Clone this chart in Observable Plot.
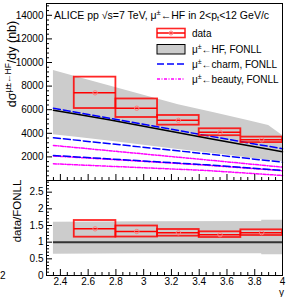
<!DOCTYPE html>
<html><head><meta charset="utf-8">
<script src="https://cdn.jsdelivr.net/npm/d3@7"></script>
<script src="https://cdn.jsdelivr.net/npm/@observablehq/plot@0.6"></script>
<style>
body{margin:0;background:#fff;}
#wrap{position:relative;width:289px;height:297px;overflow:hidden;font-family:"Liberation Sans",Arial,sans-serif;}
#wrap svg{position:absolute;left:0;}
</style></head>
<body><div id="wrap"></div>
<script>
// ---- data ----
const binLo = [2.5, 2.8, 3.1, 3.4, 3.7];
const binHi = [2.8, 3.1, 3.4, 3.7, 4.0];
const binCenter = [2.65, 2.95, 3.25, 3.55, 3.85];
const dataVal = [7430, 6125, 5100, 4090, 3445];
const dataSyst = [1330, 785, 410, 293, 233];
const ratioVal = [1.40, 1.32, 1.28, 1.225, 1.285];
const ratioSyst = [0.25, 0.165, 0.10, 0.085, 0.085];

const fonllX = [2.35, 2.5, 2.75, 3.0, 3.25, 3.5, 3.75, 3.9, 4.0];
const fonllCentral = [5950, 5660, 5140, 4600, 4050, 3500, 2960, 2640, 2430];
const fonllUpper = [9320, 8830, 8030, 7220, 6420, 5760, 5090, 4660, 3810];
const fonllLower = [3870, 3680, 3340, 2990, 2630, 2280, 1920, 1720, 1580];

const compX = [2.35, 3.45, 4.0];
const charmUpper = [6130, 3810, 2690];
const charmCentral = [3620, 2260, 1550];
const charmLower = [2120, 1330, 850];
const beautyUpper = [2970, 1750, 1130];
const beautyCentral = [2080, 1300, 830];
const beautyLower = [1415, 850, 425];

const ratioBandX = [2.35, 3.0, 3.85, 3.851, 4.0];
const ratioBandUpper = [1.60, 1.61, 1.62, 1.66, 1.66];
const ratioBandLower = [0.64, 0.65, 0.65, 0.62, 0.62];

const xMajor = [2.4, 2.6, 2.8, 3.0, 3.2, 3.4, 3.6, 3.8, 4.0];
const xLabels = ["2.4", "2.6", "2.8", "3", "3.2", "3.4", "3.6", "3.8", "4"];
const yTopMajor = [2000, 4000, 6000, 8000, 10000, 12000, 14000];
const yBotMajor = [0, 0.5, 1, 1.5, 2, 2.5];
const yBotLabels = ["0", "0.5", "1", "1.5", "2", "2.5"];

// ---- derived tables ----
const boxes = binLo.map((lo, i) => ({lo, hi: binHi[i], c: binCenter[i], v: dataVal[i], s: dataSyst[i], r: ratioVal[i], rs: ratioSyst[i]}));
const band = fonllX.map((x, i) => ({x, c: fonllCentral[i], hi: fonllUpper[i], lo: fonllLower[i]}));
const comp = compX.map((x, i) => ({x, cu: charmUpper[i], cc: charmCentral[i], cl: charmLower[i], bu: beautyUpper[i], bc: beautyCentral[i], bl: beautyLower[i]}));
const rband = ratioBandX.map((x, i) => ({x, hi: ratioBandUpper[i], lo: ratioBandLower[i]}));
const xMinor = d3.range(2.3, 4.0001, 0.05).map(v => +v.toFixed(2)).filter(v => !xMajor.some(m => Math.abs(m - v) < 1e-6));
const yTopMinor = d3.range(400, 15000, 400).filter(v => v % 2000 !== 0);
const yBotMinor = d3.range(0.1, 2.85, 0.1).map(v => +v.toFixed(1)).filter(v => Math.abs(v * 2 - Math.round(v * 2)) > 1e-6);

const RED = "#ff0000", BLUE = "#0000ff", MAG = "#ff00ff";
const pStyle = {fontFamily: "'Liberation Sans', Arial, sans-serif", fontSize: "10px", background: "transparent", overflow: "visible", color: "black"};
const blueDash = "7,3", magDash = "3,1.5,1,1.5";

const topPlot = Plot.plot({
  width: 289, height: 181, marginTop: 3, marginBottom: 1, marginLeft: 46, marginRight: 7,
  x: {domain: [2.3, 4.0]}, y: {domain: [0, 15000]}, style: pStyle,
  marks: [
    Plot.areaY(band, {x: "x", y1: "lo", y2: "hi", fill: "#cccccc"}),
    Plot.line(comp, {x: "x", y: "bl", stroke: MAG, strokeWidth: 1.5, strokeDasharray: magDash}),
    Plot.line(comp, {x: "x", y: "bc", stroke: MAG, strokeWidth: 1.5, strokeDasharray: magDash}),
    Plot.line(comp, {x: "x", y: "bu", stroke: MAG, strokeWidth: 1.5, strokeDasharray: magDash}),
    Plot.line(comp, {x: "x", y: "cl", stroke: BLUE, strokeWidth: 1.5, strokeDasharray: blueDash}),
    Plot.line(comp, {x: "x", y: "cc", stroke: BLUE, strokeWidth: 1.5, strokeDasharray: blueDash}),
    Plot.line(band, {x: "x", y: "c", stroke: "black", strokeWidth: 1.5}),
    Plot.line(comp, {x: "x", y: "cu", stroke: BLUE, strokeWidth: 1.5, strokeDasharray: blueDash}),
    Plot.rect(boxes, {x1: "lo", x2: "hi", y1: d => d.v - d.s, y2: d => d.v + d.s, fill: "none", stroke: RED, strokeWidth: 1.8, strokeOpacity: 0.85}),
    Plot.ruleY(boxes, {x1: "lo", x2: "hi", y: "v", stroke: RED, strokeWidth: 1.5}),
    Plot.dot(boxes, {x: "c", y: "v", r: 2.2, stroke: "#ff8080", fill: "none", strokeWidth: 1}),
    Plot.frame({stroke: "black", strokeWidth: 1}),
    Plot.axisY({ticks: yTopMajor, tickSize: 6, dx: 6, tickPadding: 3, tickFormat: d => String(d), label: null, fontSize: 10}),
    Plot.axisY({ticks: yTopMinor, tickSize: 3, dx: 3, tickFormat: () => "", label: null}),
    Plot.axisX({ticks: xMajor, tickSize: 6, dy: -6, tickFormat: () => "", label: null}),
    Plot.axisX({ticks: xMinor, tickSize: 3, dy: -3, tickFormat: () => "", label: null})
  ]
});
topPlot.style.top = "0px";

const botPlot = Plot.plot({
  width: 289, height: 118, marginTop: 1, marginBottom: 22, marginLeft: 46, marginRight: 7,
  x: {domain: [2.3, 4.0]}, y: {domain: [0, 2.85]}, style: pStyle,
  marks: [
    Plot.areaY(rband, {x: "x", y1: "lo", y2: "hi", fill: "#cccccc"}),
    Plot.ruleY([1], {x1: 2.35, x2: 4.0, stroke: "#333333", strokeWidth: 2}),
    Plot.rect(boxes, {x1: "lo", x2: "hi", y1: d => d.r - d.rs, y2: d => d.r + d.rs, fill: "none", stroke: RED, strokeWidth: 1.8, strokeOpacity: 0.85}),
    Plot.ruleY(boxes, {x1: "lo", x2: "hi", y: "r", stroke: RED, strokeWidth: 1.5}),
    Plot.dot(boxes, {x: "c", y: "r", r: 2.2, stroke: "#ff8080", fill: "none", strokeWidth: 1}),
    Plot.frame({stroke: "black", strokeWidth: 1}),
    Plot.axisY({ticks: yBotMajor, tickSize: 6, dx: 6, tickPadding: 3, tickFormat: d => yBotLabels[yBotMajor.indexOf(d)], label: null, fontSize: 10}),
    Plot.axisY({ticks: yBotMinor, tickSize: 3, dx: 3, tickFormat: () => "", label: null}),
    Plot.axisX({ticks: xMajor, tickSize: 6, dy: -6, tickPadding: 2, tickFormat: d => xLabels[xMajor.indexOf(d)], label: null, fontSize: 10}),
    Plot.axisX({ticks: xMinor, tickSize: 3, dy: -3, tickFormat: () => "", label: null})
  ]
});
botPlot.style.top = "179px";

const wrap = document.getElementById("wrap");
wrap.appendChild(topPlot);
wrap.appendChild(botPlot);

// ---- overlay: titles and legend ----
const ov = d3.select(wrap).append("svg").attr("width", 289).attr("height", 297)
  .style("top", "0px").style("pointer-events", "none")
  .attr("font-family", "'Liberation Sans', Arial, sans-serif");

const t = ov.append("text").attr("x", 54).attr("y", 18.5).attr("font-size", 10.5).attr("fill", "black");
t.append("tspan").text("ALICE pp \u221As=7 TeV, \u03BC");
t.append("tspan").attr("dy", -4).attr("font-size", 7.5).text("\u00B1");
t.append("tspan").attr("dy", 4).text("\u2190HF in 2<p");
t.append("tspan").attr("dy", 2.5).attr("font-size", 7.5).text("t");
t.append("tspan").attr("dy", -2.5).text("<12 GeV/c");

const legText = (y, parts) => {
  const tx = ov.append("text").attr("x", 192).attr("y", y).attr("font-size", 10).attr("fill", "black");
  tx.append("tspan").text("\u03BC");
  tx.append("tspan").attr("dy", -4).attr("font-size", 7).text("\u00B1");
  tx.append("tspan").attr("dy", 4).text(parts);
};
ov.append("rect").attr("x", 157).attr("y", 28.5).attr("width", 28).attr("height", 9).attr("fill", "none").attr("stroke", RED).attr("stroke-width", 1.6).attr("stroke-opacity", 0.85);
ov.append("line").attr("x1", 157).attr("x2", 185).attr("y1", 33).attr("y2", 33).attr("stroke", RED).attr("stroke-width", 1.5);
ov.append("circle").attr("cx", 171).attr("cy", 33).attr("r", 2).attr("fill", "none").attr("stroke", "#ff8080");
ov.append("text").attr("x", 192).attr("y", 36.5).attr("font-size", 10).text("data");
ov.append("rect").attr("x", 157).attr("y", 44.5).attr("width", 28).attr("height", 9.5).attr("fill", "#cccccc").attr("stroke", "black").attr("stroke-width", 1);
legText(52.5, "\u2190HF, FONLL");
ov.append("line").attr("x1", 157).attr("x2", 185).attr("y1", 64).attr("y2", 64).attr("stroke", BLUE).attr("stroke-width", 1.5).attr("stroke-dasharray", blueDash);
legText(67.5, "\u2190charm, FONLL");
ov.append("line").attr("x1", 157).attr("x2", 185).attr("y1", 79).attr("y2", 79).attr("stroke", MAG).attr("stroke-width", 1.5).attr("stroke-dasharray", magDash);
legText(82.5, "\u2190beauty, FONLL");

const yt = ov.append("text").attr("transform", "translate(15.5,64) rotate(-90)").attr("text-anchor", "middle").attr("font-size", 12.5);
yt.append("tspan").text("d\u03C3");
yt.append("tspan").attr("dy", -4.5).attr("font-size", 8.5).text("\u03BC\u00B1\u2190HF");
yt.append("tspan").attr("dy", 4.5).text("/dy (nb)");
ov.append("text").attr("transform", "translate(21,211) rotate(-90)").attr("text-anchor", "middle").attr("font-size", 11.5).text("data/FONLL");
ov.append("text").attr("x", 284).attr("y", 296).attr("text-anchor", "end").attr("font-size", 10).text("y");
ov.append("text").attr("x", 0).attr("y", 279).attr("font-size", 10).text("2");
</script></body></html>
